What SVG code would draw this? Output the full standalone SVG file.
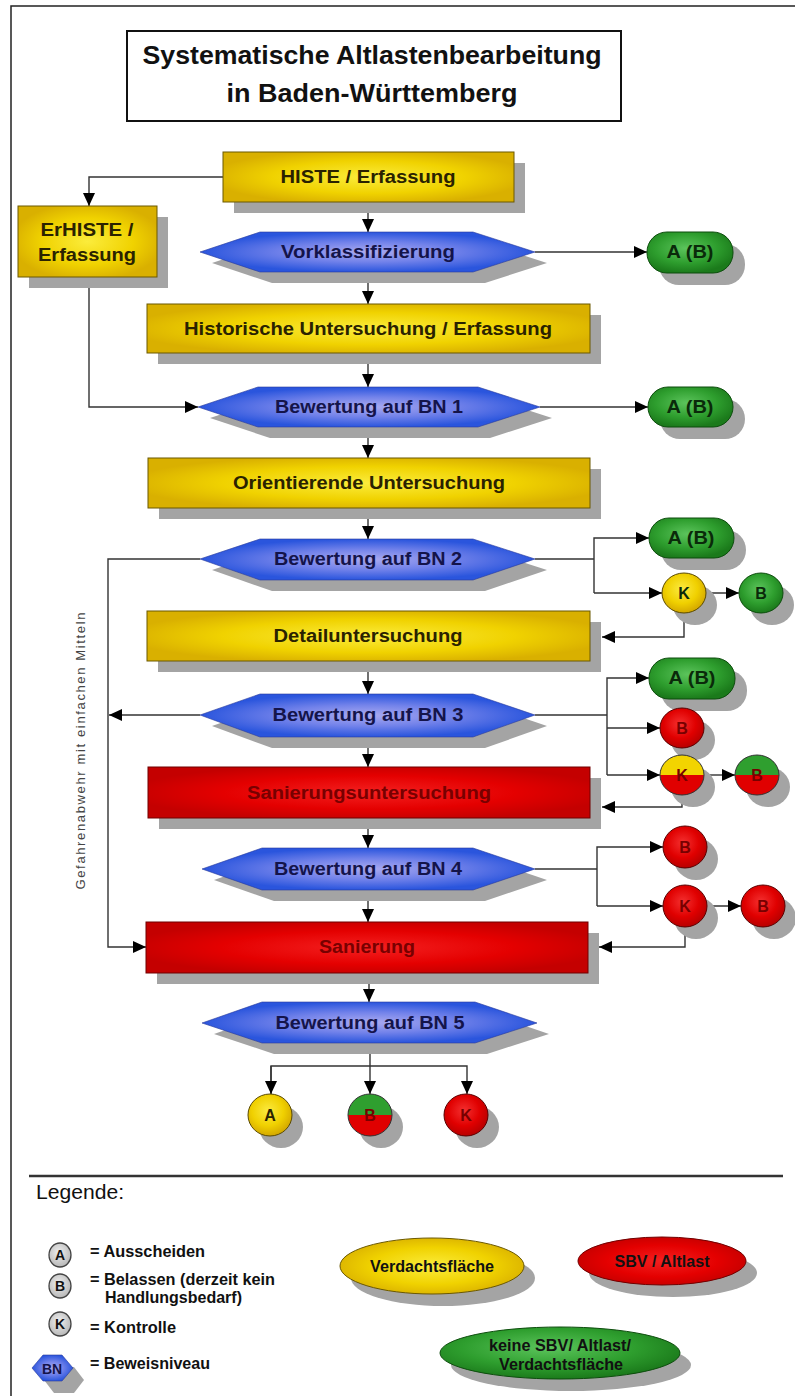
<svg xmlns="http://www.w3.org/2000/svg" width="795" height="1396" viewBox="0 0 795 1396">
<defs>
<style>
.bg{fill:#ffffff}
.frame{fill:none;stroke:#222;stroke-width:1.5}
.sh{fill:#a4a4a4}
.ybox{fill:url(#gY);stroke:#6b5800;stroke-width:1}
.rbox{fill:url(#gR);stroke:#700000;stroke-width:1}
.hex{fill:url(#gB);stroke:#2a3a9a;stroke-width:0.6}
.pill{fill:url(#gG);stroke:#0d4d0d;stroke-width:1}
.cy{fill:url(#gYc);stroke:#5a4a00;stroke-width:1}
.cr{fill:url(#gRc);stroke:#5a0000;stroke-width:1}
.cg{fill:url(#gGc);stroke:#0d4d0d;stroke-width:1}
.hy{fill:#f2d400}
.hr{fill:#e00000}
.hg{fill:#2f9f2f}
.ol{fill:none;stroke:#333;stroke-width:1}
.t{font-family:"Liberation Sans",Arial,sans-serif;font-weight:bold;font-size:18px;text-anchor:middle}
.ty{fill:#2a2200}
.tb{fill:#14144a}
.tr{fill:#780000}
.tg{fill:#0a2a0a}
.tc{font-family:"Liberation Sans",Arial,sans-serif;font-weight:bold;font-size:16px;text-anchor:middle}
.title{font-family:"Liberation Sans",Arial,sans-serif;font-weight:bold;font-size:26px;text-anchor:middle;fill:#111}
.lg{font-family:"Liberation Sans Narrow","Liberation Sans",Arial,sans-serif;font-weight:bold;font-size:17px;fill:#111}
.conn{fill:none;stroke:#333;stroke-width:1.4}
.lgc{fill:url(#gGr);stroke:#444;stroke-width:1.3}
</style>
<radialGradient id="gY" cx="0.5" cy="0.5" r="0.55"><stop offset="0" stop-color="#fbec3c"/><stop offset="0.6" stop-color="#f0d200"/><stop offset="1" stop-color="#d9b000"/></radialGradient>
<radialGradient id="gR" cx="0.5" cy="0.5" r="0.55"><stop offset="0" stop-color="#f42020"/><stop offset="0.6" stop-color="#e40000"/><stop offset="1" stop-color="#c40000"/></radialGradient>
<radialGradient id="gB" cx="0.5" cy="0.5" r="0.5"><stop offset="0" stop-color="#aaaaf0"/><stop offset="0.5" stop-color="#7282ea"/><stop offset="1" stop-color="#2a55dd"/></radialGradient>
<radialGradient id="gG" cx="0.45" cy="0.4" r="0.6"><stop offset="0" stop-color="#5cc45c"/><stop offset="0.6" stop-color="#2e9e2e"/><stop offset="1" stop-color="#1b7a1b"/></radialGradient>
<radialGradient id="gYc" cx="0.45" cy="0.4" r="0.6"><stop offset="0" stop-color="#fbea40"/><stop offset="0.6" stop-color="#f0d000"/><stop offset="1" stop-color="#d4a800"/></radialGradient>
<radialGradient id="gRc" cx="0.45" cy="0.4" r="0.6"><stop offset="0" stop-color="#f43030"/><stop offset="0.6" stop-color="#e00000"/><stop offset="1" stop-color="#b80000"/></radialGradient>
<radialGradient id="gGc" cx="0.45" cy="0.4" r="0.6"><stop offset="0" stop-color="#5cc45c"/><stop offset="0.6" stop-color="#2e9e2e"/><stop offset="1" stop-color="#1b7a1b"/></radialGradient>
<radialGradient id="gGr" cx="0.45" cy="0.4" r="0.6"><stop offset="0" stop-color="#f0f0f0"/><stop offset="1" stop-color="#b8b8b8"/></radialGradient>
<marker id="ah" markerUnits="userSpaceOnUse" markerWidth="14" markerHeight="12" refX="13" refY="6" orient="auto"><path d="M0,0 L13,6 L0,12 Z" fill="#000"/></marker>
</defs>
<rect class="bg" x="0" y="0" width="795" height="1396"/>
<path class="frame" d="M795,6 H11 V1396"/>

<g id="title">
<rect x="127" y="31" width="494" height="90" fill="#fff" stroke="#111" stroke-width="2"/>
<text class="title" x="372" y="64" textLength="459" lengthAdjust="spacingAndGlyphs">Systematische Altlastenbearbeitung</text>
<text class="title" x="372" y="102" textLength="291" lengthAdjust="spacingAndGlyphs">in Baden-Württemberg</text>
</g>

<g id="connectors">
<path class="conn" d="M223,177 H89 V206" marker-end="url(#ah)"/>
<path class="conn" d="M368,202 V232" marker-end="url(#ah)"/>
<path class="conn" d="M535,252 H647" marker-end="url(#ah)"/>
<path class="conn" d="M368,272 V304" marker-end="url(#ah)"/>
<path class="conn" d="M89,277 V407 H198" marker-end="url(#ah)"/>
<path class="conn" d="M368,353 V387" marker-end="url(#ah)"/>
<path class="conn" d="M540,407 H648" marker-end="url(#ah)"/>
<path class="conn" d="M368,427 V458" marker-end="url(#ah)"/>
<path class="conn" d="M368,508 V539" marker-end="url(#ah)"/>
<path class="conn" d="M535,559 H594"/>
<path class="conn" d="M594,593 V538 H649" marker-end="url(#ah)"/>
<path class="conn" d="M594,593 H662" marker-end="url(#ah)"/>
<path class="conn" d="M706,593 H739" marker-end="url(#ah)"/>
<path class="conn" d="M684,613 V637 H602" marker-end="url(#ah)"/>
<path class="conn" d="M200,559 H108 V947 H146" marker-end="url(#ah)"/>
<path class="conn" d="M368,661 V694" marker-end="url(#ah)"/>
<path class="conn" d="M200,715 H109" marker-end="url(#ah)"/>
<path class="conn" d="M535,715 H607"/>
<path class="conn" d="M607,775 V678 H649" marker-end="url(#ah)"/>
<path class="conn" d="M607,728 H660" marker-end="url(#ah)"/>
<path class="conn" d="M607,775 H660" marker-end="url(#ah)"/>
<path class="conn" d="M704,775 H735" marker-end="url(#ah)"/>
<path class="conn" d="M682,795 V807 H602" marker-end="url(#ah)"/>
<path class="conn" d="M368,737 V767" marker-end="url(#ah)"/>
<path class="conn" d="M368,818 V848" marker-end="url(#ah)"/>
<path class="conn" d="M535,869 H597"/>
<path class="conn" d="M597,906 V847 H663" marker-end="url(#ah)"/>
<path class="conn" d="M597,906 H663" marker-end="url(#ah)"/>
<path class="conn" d="M707,906 H741" marker-end="url(#ah)"/>
<path class="conn" d="M685,926 V947 H599" marker-end="url(#ah)"/>
<path class="conn" d="M368,890 V922" marker-end="url(#ah)"/>
<path class="conn" d="M369,973 V1002" marker-end="url(#ah)"/>
<path class="conn" d="M370,1043 V1094" marker-end="url(#ah)"/>
<path class="conn" d="M271,1094 V1066 H467 V1094" marker-end="url(#ah)"/>
<path class="conn" d="M271,1066 V1094" marker-end="url(#ah)"/>
</g>

<text x="85" y="751" transform="rotate(-90 85 751)" font-family="'Liberation Sans',Arial,sans-serif" font-size="13" fill="#444" text-anchor="middle" textLength="277" lengthAdjust="spacing">Gefahrenabwehr mit einfachen Mitteln</text>

<g id="n-histe">
<rect class="sh" x="234" y="163" width="291" height="50"/>
<rect class="ybox" x="223" y="152" width="291" height="50"/>
<text class="t ty" x="368" y="183" textLength="175" lengthAdjust="spacingAndGlyphs">HISTE / Erfassung</text>
</g>
<g id="n-erhiste">
<rect class="sh" x="29" y="217" width="139" height="71"/>
<rect class="ybox" x="18" y="206" width="139" height="71"/>
<text class="t ty" x="87" y="236" textLength="93" lengthAdjust="spacingAndGlyphs">ErHISTE /</text>
<text class="t ty" x="87" y="261" textLength="98" lengthAdjust="spacingAndGlyphs">Erfassung</text>
</g>
<g id="n-vorklass">
<polygon class="sh" points="212,263 272,243 485,243 547,263 485,283 272,283"/>
<polygon class="hex" points="200,252 260,232 473,232 535,252 473,272 260,272"/>
<text class="t tb" x="368" y="258" textLength="174" lengthAdjust="spacingAndGlyphs">Vorklassifizierung</text>
</g>
<g id="n-ab1">
<rect class="sh" x="659" y="244" width="86" height="41" rx="20"/>
<rect class="pill" x="647" y="232" width="86" height="41" rx="20"/>
<text class="t tg" x="690" y="258" textLength="47" lengthAdjust="spacingAndGlyphs">A (B)</text>
</g>
<g id="n-historische">
<rect class="sh" x="158" y="315" width="443" height="49"/>
<rect class="ybox" x="147" y="304" width="443" height="49"/>
<text class="t ty" x="368" y="335" textLength="368" lengthAdjust="spacingAndGlyphs">Historische Untersuchung / Erfassung</text>
</g>
<g id="n-bn1">
<polygon class="sh" points="210,418 270,398 490,398 552,418 490,438 270,438"/>
<polygon class="hex" points="198,407 258,387 478,387 540,407 478,427 258,427"/>
<text class="t tb" x="369" y="413" textLength="188" lengthAdjust="spacingAndGlyphs">Bewertung auf BN 1</text>
</g>
<g id="n-ab2">
<rect class="sh" x="660" y="399" width="85" height="40" rx="20"/>
<rect class="pill" x="648" y="387" width="85" height="40" rx="20"/>
<text class="t tg" x="690" y="413" textLength="47" lengthAdjust="spacingAndGlyphs">A (B)</text>
</g>
<g id="n-orient">
<rect class="sh" x="159" y="469" width="442" height="50"/>
<rect class="ybox" x="148" y="458" width="442" height="50"/>
<text class="t ty" x="369" y="489" textLength="272" lengthAdjust="spacingAndGlyphs">Orientierende Untersuchung</text>
</g>
<g id="n-bn2">
<polygon class="sh" points="212,570 272,550 485,550 547,570 485,591 272,591"/>
<polygon class="hex" points="200,559 260,539 473,539 535,559 473,580 260,580"/>
<text class="t tb" x="368" y="565" textLength="188" lengthAdjust="spacingAndGlyphs">Bewertung auf BN 2</text>
</g>
<g id="n-ab3">
<rect class="sh" x="661" y="530" width="85" height="40" rx="20"/>
<rect class="pill" x="649" y="518" width="85" height="40" rx="20"/>
<text class="t tg" x="691" y="544" textLength="47" lengthAdjust="spacingAndGlyphs">A (B)</text>
</g>
<g id="n-k1">
<ellipse class="sh" cx="695" cy="605" rx="22" ry="20"/>
<ellipse class="cy" cx="684" cy="593" rx="22" ry="20"/>
<text class="tc tg" x="684" y="599">K</text>
</g>
<g id="n-b1">
<ellipse class="sh" cx="772" cy="605" rx="22" ry="20"/>
<ellipse class="cg" cx="761" cy="593" rx="22" ry="20"/>
<text class="tc tg" x="761" y="599">B</text>
</g>
<g id="n-detail">
<rect class="sh" x="158" y="622" width="443" height="50"/>
<rect class="ybox" x="147" y="611" width="443" height="50"/>
<text class="t ty" x="368" y="642" textLength="189" lengthAdjust="spacingAndGlyphs">Detailuntersuchung</text>
</g>
<g id="n-bn3">
<polygon class="sh" points="212,726 272,705 485,705 547,726 485,748 272,748"/>
<polygon class="hex" points="200,715 260,694 473,694 535,715 473,737 260,737"/>
<text class="t tb" x="368" y="721" textLength="191" lengthAdjust="spacingAndGlyphs">Bewertung auf BN 3</text>
</g>
<g id="n-ab4">
<rect class="sh" x="661" y="670" width="86" height="41" rx="20"/>
<rect class="pill" x="649" y="658" width="86" height="41" rx="20"/>
<text class="t tg" x="692" y="684" textLength="47" lengthAdjust="spacingAndGlyphs">A (B)</text>
</g>
<g id="n-b2">
<ellipse class="sh" cx="693" cy="740" rx="22" ry="20"/>
<ellipse class="cr" cx="682" cy="728" rx="22" ry="20"/>
<text class="tc tr" x="682" y="734">B</text>
</g>
<g id="n-k2">
<ellipse class="sh" cx="693" cy="787" rx="22" ry="20"/>
<path class="hy" d="M660,775 A22,20 0 0 1 704,775 Z"/>
<path class="hr" d="M660,775 A22,20 0 0 0 704,775 Z"/>
<ellipse class="ol" cx="682" cy="775" rx="22" ry="20"/>
<text class="tc tr" x="682" y="781">K</text>
</g>
<g id="n-b3">
<ellipse class="sh" cx="768" cy="787" rx="22" ry="20"/>
<path class="hg" d="M735,775 A22,20 0 0 1 779,775 Z"/>
<path class="hr" d="M735,775 A22,20 0 0 0 779,775 Z"/>
<ellipse class="ol" cx="757" cy="775" rx="22" ry="20"/>
<text class="tc tr" x="757" y="781">B</text>
</g>
<g id="n-sanunt">
<rect class="sh" x="159" y="778" width="442" height="51"/>
<rect class="rbox" x="148" y="767" width="442" height="51"/>
<text class="t tr" x="369" y="799" textLength="244" lengthAdjust="spacingAndGlyphs">Sanierungsuntersuchung</text>
</g>
<g id="n-bn4">
<polygon class="sh" points="214,880 274,859 485,859 547,880 485,901 274,901"/>
<polygon class="hex" points="202,869 262,848 473,848 535,869 473,890 262,890"/>
<text class="t tb" x="368" y="875" textLength="188" lengthAdjust="spacingAndGlyphs">Bewertung auf BN 4</text>
</g>
<g id="n-b4">
<ellipse class="sh" cx="696" cy="859" rx="22" ry="21"/>
<ellipse class="cr" cx="685" cy="847" rx="22" ry="21"/>
<text class="tc tr" x="685" y="853">B</text>
</g>
<g id="n-k3">
<ellipse class="sh" cx="696" cy="918" rx="22" ry="21"/>
<ellipse class="cr" cx="685" cy="906" rx="22" ry="21"/>
<text class="tc tr" x="685" y="912">K</text>
</g>
<g id="n-b5">
<ellipse class="sh" cx="774" cy="918" rx="22" ry="21"/>
<ellipse class="cr" cx="763" cy="906" rx="22" ry="21"/>
<text class="tc tr" x="763" y="912">B</text>
</g>
<g id="n-sanierung">
<rect class="sh" x="157" y="933" width="442" height="51"/>
<rect class="rbox" x="146" y="922" width="442" height="51"/>
<text class="t tr" x="367" y="953" textLength="96" lengthAdjust="spacingAndGlyphs">Sanierung</text>
</g>
<g id="n-bn5">
<polygon class="sh" points="214,1034 274,1013 487,1013 549,1034 487,1054 274,1054"/>
<polygon class="hex" points="202,1023 262,1002 475,1002 537,1023 475,1043 262,1043"/>
<text class="t tb" x="370" y="1029" textLength="189" lengthAdjust="spacingAndGlyphs">Bewertung auf BN 5</text>
</g>
<g id="n-a">
<ellipse class="sh" cx="281" cy="1127" rx="22" ry="21"/>
<ellipse class="cy" cx="270" cy="1115" rx="22" ry="21"/>
<text class="tc ty" x="270" y="1121">A</text>
</g>
<g id="n-b6">
<ellipse class="sh" cx="381" cy="1127" rx="22" ry="21"/>
<path class="hg" d="M348,1115 A22,21 0 0 1 392,1115 Z"/>
<path class="hr" d="M348,1115 A22,21 0 0 0 392,1115 Z"/>
<ellipse class="ol" cx="370" cy="1115" rx="22" ry="21"/>
<text class="tc tr" x="370" y="1121">B</text>
</g>
<g id="n-k4">
<ellipse class="sh" cx="477" cy="1127" rx="22" ry="21"/>
<ellipse class="cr" cx="466" cy="1115" rx="22" ry="21"/>
<text class="tc tr" x="466" y="1121">K</text>
</g>

<g id="legend">
<line x1="29" y1="1176" x2="783" y2="1176" stroke="#333" stroke-width="2.5"/>
<text x="36" y="1199" font-family="'Liberation Sans',Arial,sans-serif" font-size="20" fill="#111" textLength="88" lengthAdjust="spacingAndGlyphs">Legende:</text>
<ellipse class="lgc" cx="60" cy="1255" rx="11" ry="12"/>
<text class="tc" x="60" y="1260" fill="#111" style="font-size:14px">A</text>
<text class="lg" x="90" y="1257" textLength="115" lengthAdjust="spacingAndGlyphs">= Ausscheiden</text>
<ellipse class="lgc" cx="60" cy="1286" rx="11" ry="12"/>
<text class="tc" x="60" y="1291" fill="#111" style="font-size:14px">B</text>
<text class="lg" x="90" y="1285" textLength="185" lengthAdjust="spacingAndGlyphs">= Belassen (derzeit kein</text>
<text class="lg" x="105" y="1303" textLength="137" lengthAdjust="spacingAndGlyphs">Handlungsbedarf)</text>
<ellipse class="lgc" cx="60" cy="1324" rx="11" ry="12"/>
<text class="tc" x="60" y="1329" fill="#111" style="font-size:14px">K</text>
<text class="lg" x="90" y="1333" textLength="86" lengthAdjust="spacingAndGlyphs">= Kontrolle</text>
<polygon class="sh" points="44,1380 54,1367 74,1367 84,1380 74,1393 54,1393"/>
<polygon points="32,1368 43,1355 62,1355 73,1368 62,1381 43,1381" fill="url(#gB)" stroke="#2a3a9a" stroke-width="0.6"/>
<text class="tc" x="52" y="1374" fill="#14144a" style="font-size:14px">BN</text>
<text class="lg" x="90" y="1369" textLength="120" lengthAdjust="spacingAndGlyphs">= Beweisniveau</text>
</g>
<g id="legend-verdacht">
<ellipse class="sh" cx="443" cy="1278" rx="92" ry="28"/>
<ellipse cx="432" cy="1266" rx="92" ry="28" fill="url(#gY)" stroke="#6b5800" stroke-width="1"/>
<text class="lg" x="432" y="1272" text-anchor="middle" fill="#2a2200" textLength="124" lengthAdjust="spacingAndGlyphs">Verdachtsfläche</text>
</g>
<g id="legend-sbv">
<ellipse class="sh" cx="673" cy="1273" rx="84" ry="24"/>
<ellipse cx="662" cy="1261" rx="84" ry="24" fill="url(#gR)" stroke="#700000" stroke-width="1"/>
<text class="lg" x="662" y="1267" text-anchor="middle" fill="#780000" textLength="95" lengthAdjust="spacingAndGlyphs">SBV / Altlast</text>
</g>
<g id="legend-keine">
<ellipse class="sh" cx="571" cy="1365" rx="120" ry="26"/>
<ellipse cx="560" cy="1353" rx="120" ry="26" fill="url(#gG)" stroke="#0d4d0d" stroke-width="1"/>
<text class="lg" x="560" y="1351" text-anchor="middle" fill="#0a2a0a" textLength="142" lengthAdjust="spacingAndGlyphs">keine SBV/ Altlast/</text>
<text class="lg" x="561" y="1370" text-anchor="middle" fill="#0a2a0a" textLength="124" lengthAdjust="spacingAndGlyphs">Verdachtsfläche</text>
</g>
</svg>
